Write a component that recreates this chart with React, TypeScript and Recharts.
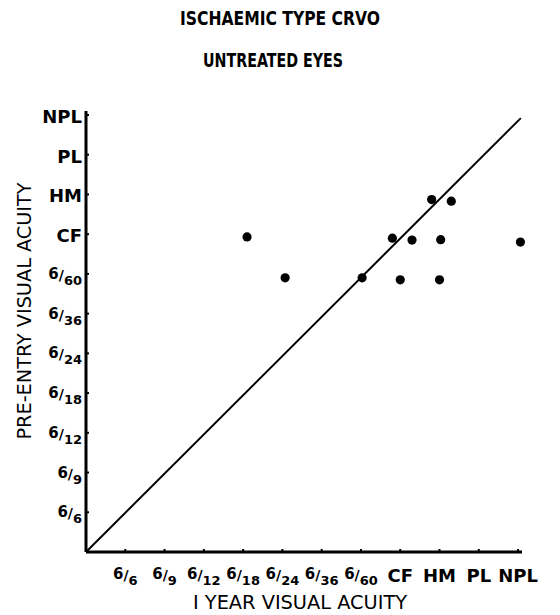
import React from 'react';
import { ScatterChart, Scatter, XAxis, YAxis, ReferenceLine } from 'recharts';

const acuityLabels = ['6/6', '6/9', '6/12', '6/18', '6/24', '6/36', '6/60', 'CF', 'HM', 'PL', 'NPL'];
const tickValues = [1, 2, 3, 4, 5, 6, 7, 8, 9, 10, 11];
const oneYearAcuity = [4.1, 5.07, 7.03, 7.8, 8.3, 8.8, 9.3, 9.03, 8.0, 9.0, 11.06];
const preEntryAcuity = [7.93, 6.9, 6.9, 7.9, 7.85, 8.87, 8.83, 7.86, 6.85, 6.85, 7.8];
const diagonalStart = { x: 0, y: 0 };
const diagonalEnd = { x: 11.07, y: 10.92 };

const titleLines = ['ISCHAEMIC TYPE CRVO', 'UNTREATED EYES'];
const xTitle = 'I YEAR VISUAL ACUITY';
const yTitle = 'PRE-ENTRY VISUAL ACUITY';

const points = oneYearAcuity.map((x, i) => ({ x, y: preEntryAcuity[i] }));
const labelFor = (v: number) => acuityLabels[v - 1] ?? '';

const FONT = "'DejaVu Sans', Verdana, sans-serif";
const TFONT = "'DejaVu Sans Condensed', 'Liberation Sans Narrow', 'DejaVu Sans', sans-serif";

function AcuityText({ label, x, y, anchor }: { label: string; x: number; y: number; anchor: 'start' | 'middle' | 'end' }) {
  if (label.includes('/')) {
    const [num, den] = label.split('/');
    return (
      <text x={x} y={y} textAnchor={anchor} fontFamily={FONT} fontWeight="bold" fill="#000">
        <tspan fontSize={15} dy={-3}>{num}</tspan>
        <tspan fontSize={14} dy={1}>/</tspan>
        <tspan fontSize={13} dy={5}>{den}</tspan>
      </text>
    );
  }
  return (
    <text x={x} y={y} textAnchor={anchor} fontFamily={FONT} fontWeight="bold" fontSize={18} fill="#000">
      {label}
    </text>
  );
}

const XTick = (props: any) => {
  const { x, y, payload } = props;
  return (
    <g>
      <line x1={x} y1={y} x2={x} y2={y - 3} stroke="#000" strokeWidth={2} />
      <AcuityText label={labelFor(payload.value)} x={x} y={y + 30} anchor="middle" />
    </g>
  );
};

const YTick = (props: any) => {
  const { x, y, payload } = props;
  return (
    <g>
      <line x1={x} y1={y} x2={x + 3} y2={y} stroke="#000" strokeWidth={2} />
      <AcuityText label={labelFor(payload.value)} x={x - 4} y={y + 8} anchor="end" />
    </g>
  );
};

const Dot = (props: any) => <circle cx={props.cx} cy={props.cy} r={4.6} fill="#000" />;

export default function App() {
  return (
    <div style={{ position: 'absolute', left: 0, top: 0, width: 560, height: 615, background: '#fff' }}>
      <ScatterChart width={560} height={615} margin={{ top: 111, right: 38, bottom: 13, left: 6 }}>
        <XAxis
          type="number"
          dataKey="x"
          domain={[0, 11.1]}
          ticks={tickValues}
          interval={0}
          tickSize={0}
          tickMargin={0}
          tickLine={false}
          tick={<XTick />}
          axisLine={{ stroke: '#000', strokeWidth: 3 }}
          height={50}
        />
        <YAxis
          type="number"
          dataKey="y"
          domain={[0, 11.1]}
          ticks={tickValues}
          interval={0}
          tickSize={0}
          tickMargin={0}
          tickLine={false}
          tick={<YTick />}
          axisLine={{ stroke: '#000', strokeWidth: 3 }}
          width={80}
        />
        <ReferenceLine
          segment={[diagonalStart, diagonalEnd]}
          stroke="#000"
          strokeWidth={2}
          ifOverflow="visible"
        />
        <Scatter data={points} shape={<Dot />} isAnimationActive={false} />
      </ScatterChart>
      <svg width={560} height={615} style={{ position: 'absolute', left: 0, top: 0, pointerEvents: 'none' }}>
        <text x={280} y={25} textAnchor="middle" fontFamily={TFONT} fontWeight="bold" fontSize={20} textLength={200} lengthAdjust="spacingAndGlyphs" fill="#000">
          {titleLines[0]}
        </text>
        <text x={273} y={67} textAnchor="middle" fontFamily={TFONT} fontWeight="bold" fontSize={20} textLength={140} lengthAdjust="spacingAndGlyphs" fill="#000">
          {titleLines[1]}
        </text>
        <text x={300} y={609} textAnchor="middle" fontFamily={TFONT} fontWeight={500} fontSize={20} textLength={214} lengthAdjust="spacingAndGlyphs" fill="#000">
          {xTitle}
        </text>
        <text
          x={0}
          y={0}
          transform="translate(31, 311) rotate(-90)"
          textAnchor="middle"
          fontFamily={TFONT}
          fontWeight={500}
          fontSize={20}
          textLength={257}
          lengthAdjust="spacingAndGlyphs"
          fill="#000"
        >
          {yTitle}
        </text>
      </svg>
    </div>
  );
}
